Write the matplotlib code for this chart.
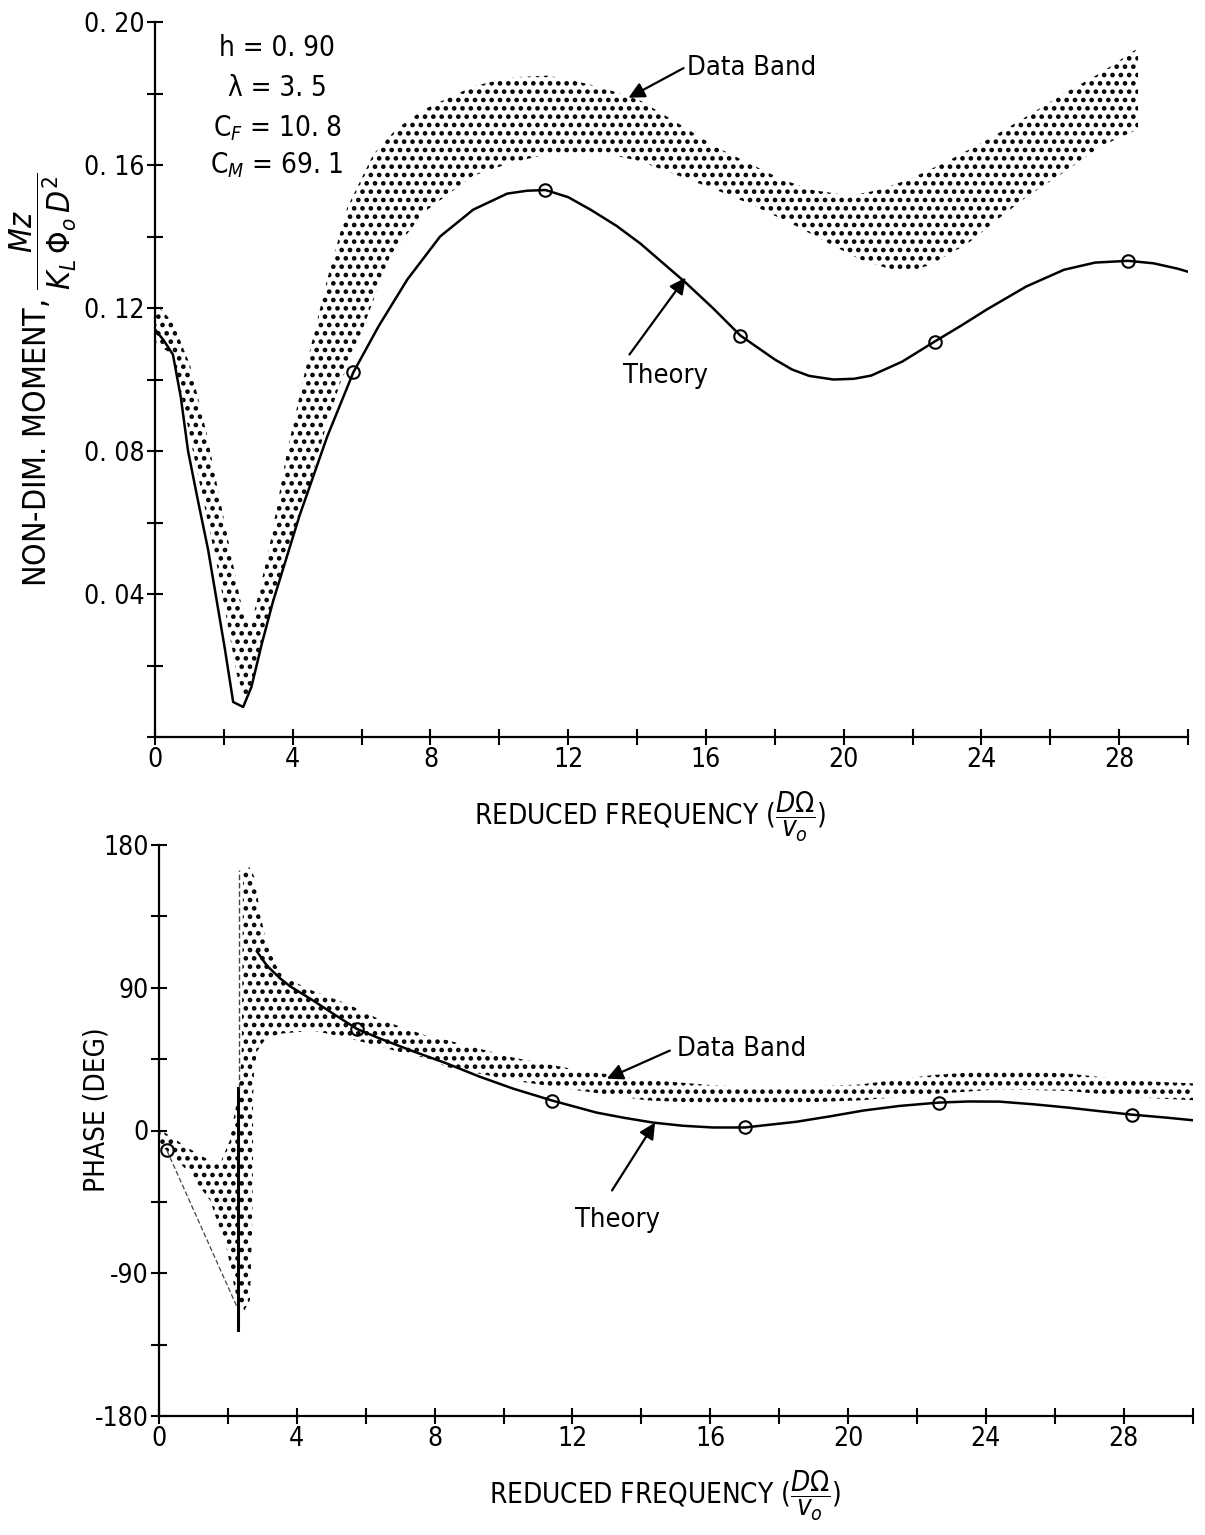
import matplotlib
matplotlib.use('Agg')
import matplotlib.pyplot as plt
from matplotlib.ticker import MultipleLocator

plt.rcParams['font.family'] = ['DejaVu Sans']
plt.rcParams['font.stretch'] = 'condensed'
plt.rcParams['mathtext.fontset'] = 'custom'
plt.rcParams['mathtext.rm'] = 'DejaVu Sans:stretch=condensed'
plt.rcParams['mathtext.it'] = 'DejaVu Sans:italic:stretch=condensed'
plt.rcParams['mathtext.cal'] = 'DejaVu Sans:stretch=condensed'
plt.rcParams['mathtext.bf'] = 'DejaVu Sans:bold:stretch=condensed'
plt.rcParams['mathtext.sf'] = 'DejaVu Sans:stretch=condensed'
plt.rcParams['hatch.linewidth'] = 2.1

# ---------------- top panel data (moment) ----------------
mom_theory_x = [0.0, 0.25, 0.52, 0.75, 0.96, 1.25, 1.54, 2.03, 2.27, 2.56, 2.8, 3.1, 3.43, 4.2,
                5.0, 5.76, 6.5, 7.33, 8.28, 9.24, 10.23, 10.8, 11.34, 12.0, 12.65, 13.4, 14.1,
                15.41, 16.2, 17.0, 18.0, 18.5, 19.0, 19.7, 20.3, 20.8, 21.7, 22.64, 23.4, 24.16,
                25.3, 26.4, 27.3, 28.26, 29.0, 29.7, 30.4]
mom_theory_y = [0.114, 0.111, 0.107, 0.095, 0.080, 0.066, 0.0525, 0.0246, 0.0098, 0.0084, 0.014,
                0.026, 0.038, 0.062, 0.084, 0.102, 0.115, 0.128, 0.140, 0.1475, 0.152, 0.1528,
                0.153, 0.151, 0.1475, 0.143, 0.138, 0.1271, 0.120, 0.1123, 0.1056, 0.1028,
                0.1010, 0.1000, 0.1002, 0.1011, 0.105, 0.1106, 0.115, 0.1196, 0.126, 0.1307,
                0.1327, 0.1332, 0.1325, 0.131, 0.129]
mom_marker_x = [5.76, 11.34, 17.0, 22.64, 28.26]
mom_marker_y = [0.102, 0.153, 0.1123, 0.1106, 0.1332]

mom_band_upper_x = [0.0, 0.52, 1.02, 1.5, 1.98, 2.47, 2.76, 3.3, 3.84, 4.42, 5.0, 5.58, 6.34, 7.0,
                    7.8, 9.24, 10.3, 11.4, 12.2, 13.0, 14.1, 15.17, 16.3, 17.4, 18.2, 19.1, 20.2,
                    21.0, 21.9, 23.0, 24.16, 25.3, 26.4, 27.5, 28.55]
mom_band_upper_y = [0.1215, 0.116, 0.104, 0.085, 0.062, 0.0386, 0.030, 0.052, 0.080, 0.105, 0.128,
                    0.148, 0.163, 0.170, 0.1755, 0.182, 0.1845, 0.185, 0.1835, 0.1816, 0.178,
                    0.1718, 0.165, 0.1598, 0.156, 0.153, 0.1514, 0.153, 0.156, 0.161, 0.167,
                    0.1735, 0.180, 0.186, 0.1927]
mom_band_lower_x = [0.0, 0.52, 1.1, 1.8, 2.38, 2.62, 2.85, 3.43, 4.42, 5.0, 5.38, 5.87, 6.83, 7.8,
                    9.24, 10.3, 11.2, 12.3, 13.2, 14.1, 15.2, 16.3, 17.4, 18.6, 19.7, 20.5, 21.4,
                    22.0, 22.5, 23.6, 24.5, 25.3, 26.4, 27.5, 28.55]
mom_band_lower_y = [0.110, 0.107, 0.080, 0.048, 0.0173, 0.0106, 0.016, 0.038, 0.068, 0.088, 0.099,
                    0.110, 0.1346, 0.1467, 0.157, 0.1605, 0.1626, 0.1635, 0.163, 0.161, 0.157,
                    0.153, 0.1486, 0.143, 0.1374, 0.1335, 0.1307, 0.1305, 0.132, 0.138, 0.145,
                    0.151, 0.158, 0.1654, 0.170]

mom_yticks = [0.04, 0.08, 0.12, 0.16, 0.20]
mom_yticklabels = ['0. 04', '0. 08', '0. 12', '0. 16', '0. 20']
xticks = [0, 4, 8, 12, 16, 20, 24, 28]
xticklabels = ['0', '4', '8', '12', '16', '20', '24', '28']
params = ['h = 0. 90', 'λ = 3. 5', 'C$_F$ = 10. 8', 'C$_M$ = 69. 1']

# ---------------- bottom panel data (phase) ----------------
ph_thin_x = [0.23, 2.26]
ph_thin_y = [-12.6, -111]
ph_vert_x = [2.29, 2.29]
ph_vert_y = [-126, 27]
ph_vert_dash_x = [2.31, 2.31]
ph_vert_dash_y = [27, 164]
ph_theory_x = [2.84, 3.0, 3.13, 3.51, 3.8, 4.47, 5.1, 5.75, 6.41, 7.37, 8.36, 9.3, 10.28, 11.41,
               12.7, 13.5, 14.34, 15.2, 16.08, 17.0, 18.5, 19.5, 20.45, 21.5, 22.64, 23.5, 24.4,
               25.4, 26.36, 27.3, 28.24, 29.3, 30.36]
ph_theory_y = [113, 108, 104, 96, 91, 82, 73, 64, 58, 50, 42.2, 34, 26.4, 18.9, 11.3, 8, 5, 3,
               1.9, 1.9, 5.5, 9, 12.6, 15.5, 17.6, 18.3, 18.2, 16.5, 14.5, 12.2, 10, 8, 5.7]
ph_marker_x = [0.23, 5.75, 11.41, 17.0, 22.64, 28.24]
ph_marker_y = [-12.6, 64, 18.9, 1.9, 17.6, 10]

ph_band_upper_x = [0.0, 0.5, 1.0, 1.4, 1.77, 2.06, 2.26, 2.40, 2.42, 2.44, 2.62, 2.79, 2.93, 3.13,
                   3.4, 3.7, 4.47, 5.45, 6.41, 7.87, 8.36, 10.28, 12.2, 14.16, 16.08, 18.0, 20.35,
                   22.47, 24.4, 26.36, 28.27, 30.1]
ph_band_upper_y = [1, -6, -13, -18, -21, -6, 19, 45, 100, 164, 166, 159, 137, 118, 104, 96, 88, 80,
                   70, 59, 57, 46, 38, 32, 28.5, 27, 29, 35, 37.8, 36, 31.5, 29.6]
ph_band_lower_x = [0.0, 0.81, 1.48, 1.97, 2.26, 2.44, 2.64, 2.70, 2.73, 2.73, 2.76, 2.85, 3.1, 3.51,
                   4.47, 5.45, 6.9, 7.87, 8.36, 10.28, 12.2, 14.16, 16.08, 18.0, 20.35, 22.47, 24.4,
                   26.36, 28.27, 30.1]
ph_band_lower_y = [-8, -25, -44, -75, -107, -115, -107, -65, -23, 19, 38, 50, 58, 61, 63, 58.5, 50,
                   45, 40, 31.5, 25.2, 19, 17, 17, 19, 23, 26, 25, 21, 19]

ph_yticks = [-180, -90, 0, 90, 180]
ph_yticklabels = ['-180', '-90', '0', '90', '180']

W, H = 1205, 1535
fig = plt.figure(figsize=(W / 100, H / 100), dpi=100)
fig.patch.set_facecolor('white')


def style_axes(ax):
    for s in ['top', 'right']:
        ax.spines[s].set_visible(False)
    for s in ['left', 'bottom']:
        ax.spines[s].set_linewidth(1.6)
    ax.tick_params(which='both', direction='inout', length=11, width=1.5, color='black')
    ax.tick_params(which='major', labelsize=19, pad=2)
    ax.set_xticks(xticks)
    ax.set_xticklabels(xticklabels)
    ax.xaxis.set_minor_locator(MultipleLocator(2))
    ax.set_xlim(0, 30)


def band(ax, ux, uy, lx, ly):
    px = list(ux) + list(lx)[::-1]
    py = list(uy) + list(ly)[::-1]
    ax.fill(px, py, facecolor='white', edgecolor='black', hatch='..', linewidth=0, zorder=1)


def arrow(ax, tail, tip):
    ax.annotate('', xy=tip, xytext=tail,
                arrowprops=dict(arrowstyle='-|>', lw=1.6, color='black', mutation_scale=24,
                                shrinkA=0, shrinkB=0))


# ---- top axes ----
ax1 = fig.add_axes([155 / W, 1 - 737 / H, 1033 / W, 715 / H])
style_axes(ax1)
ax1.set_ylim(0, 0.20)
ax1.set_yticks(mom_yticks)
ax1.set_yticklabels(mom_yticklabels)
ax1.yaxis.set_minor_locator(MultipleLocator(0.02))
band(ax1, mom_band_upper_x, mom_band_upper_y, mom_band_lower_x, mom_band_lower_y)
ax1.plot(mom_theory_x, mom_theory_y, color='black', lw=1.8, zorder=3)
ax1.plot(mom_marker_x, mom_marker_y, 'o', mfc='none', mec='black', ms=9, mew=1.5, zorder=4)

py0 = [0.1927, 0.1816, 0.1704, 0.160]
for t, yy in zip(params, py0):
    ax1.text(3.55, yy, t, ha='center', va='center', fontsize=20)

ax1.text(15.44, 0.1871, 'Data Band', ha='left', va='center', fontsize=19.5)
arrow(ax1, (15.35, 0.1871), (13.75, 0.1788))
ax1.text(13.6, 0.1011, 'Theory', ha='left', va='center', fontsize=19.5)
arrow(ax1, (13.78, 0.107), (15.41, 0.1285))

ax1.text(0.479, -0.112, r'REDUCED FREQUENCY $(\dfrac{D\Omega}{v_o})$', transform=ax1.transAxes,
         ha='center', va='center', fontsize=20)
ax1.text(-0.108, 0.5, r'NON-DIM. MOMENT, $\dfrac{Mz}{K_L\,\Phi_o\,D^2}$', transform=ax1.transAxes,
         ha='center', va='center', rotation=90, fontsize=23)

# ---- bottom axes ----
ax2 = fig.add_axes([159 / W, 1 - 1416 / H, 1033.5 / W, 571 / H])
style_axes(ax2)
ax2.set_ylim(-180, 180)
ax2.set_yticks(ph_yticks)
ax2.set_yticklabels(ph_yticklabels)
ax2.yaxis.set_minor_locator(MultipleLocator(45))
band(ax2, ph_band_upper_x, ph_band_upper_y, ph_band_lower_x, ph_band_lower_y)
ax2.plot(ph_thin_x, ph_thin_y, color='#444444', lw=0.9, ls=(0, (4, 2)), zorder=3)
ax2.plot(ph_vert_x, ph_vert_y, color='black', lw=2.2, zorder=3)
ax2.plot(ph_vert_dash_x, ph_vert_dash_y, color='#444444', lw=1.0, ls=(0, (4, 2)), zorder=3)
ax2.plot(ph_theory_x, ph_theory_y, color='black', lw=1.8, zorder=3)
ax2.plot(ph_marker_x, ph_marker_y, 'o', mfc='none', mec='black', ms=9, mew=1.5, zorder=4)

ax2.text(15.04, 51.6, 'Data Band', ha='left', va='center', fontsize=19.5)
arrow(ax2, (14.83, 50.4), (13.0, 32.7))
ax2.text(12.08, -56.6, 'Theory', ha='left', va='center', fontsize=19.5)
arrow(ax2, (13.15, -37.8), (14.4, 5))

ax2.text(0.49, -0.14, r'REDUCED FREQUENCY $(\dfrac{D\Omega}{v_o})$', transform=ax2.transAxes,
         ha='center', va='center', fontsize=20)
ax2.text(-0.06, 0.536, 'PHASE (DEG)', transform=ax2.transAxes,
         ha='center', va='center', rotation=90, fontsize=20)

fig.savefig('out.png', dpi=100, facecolor='white')
